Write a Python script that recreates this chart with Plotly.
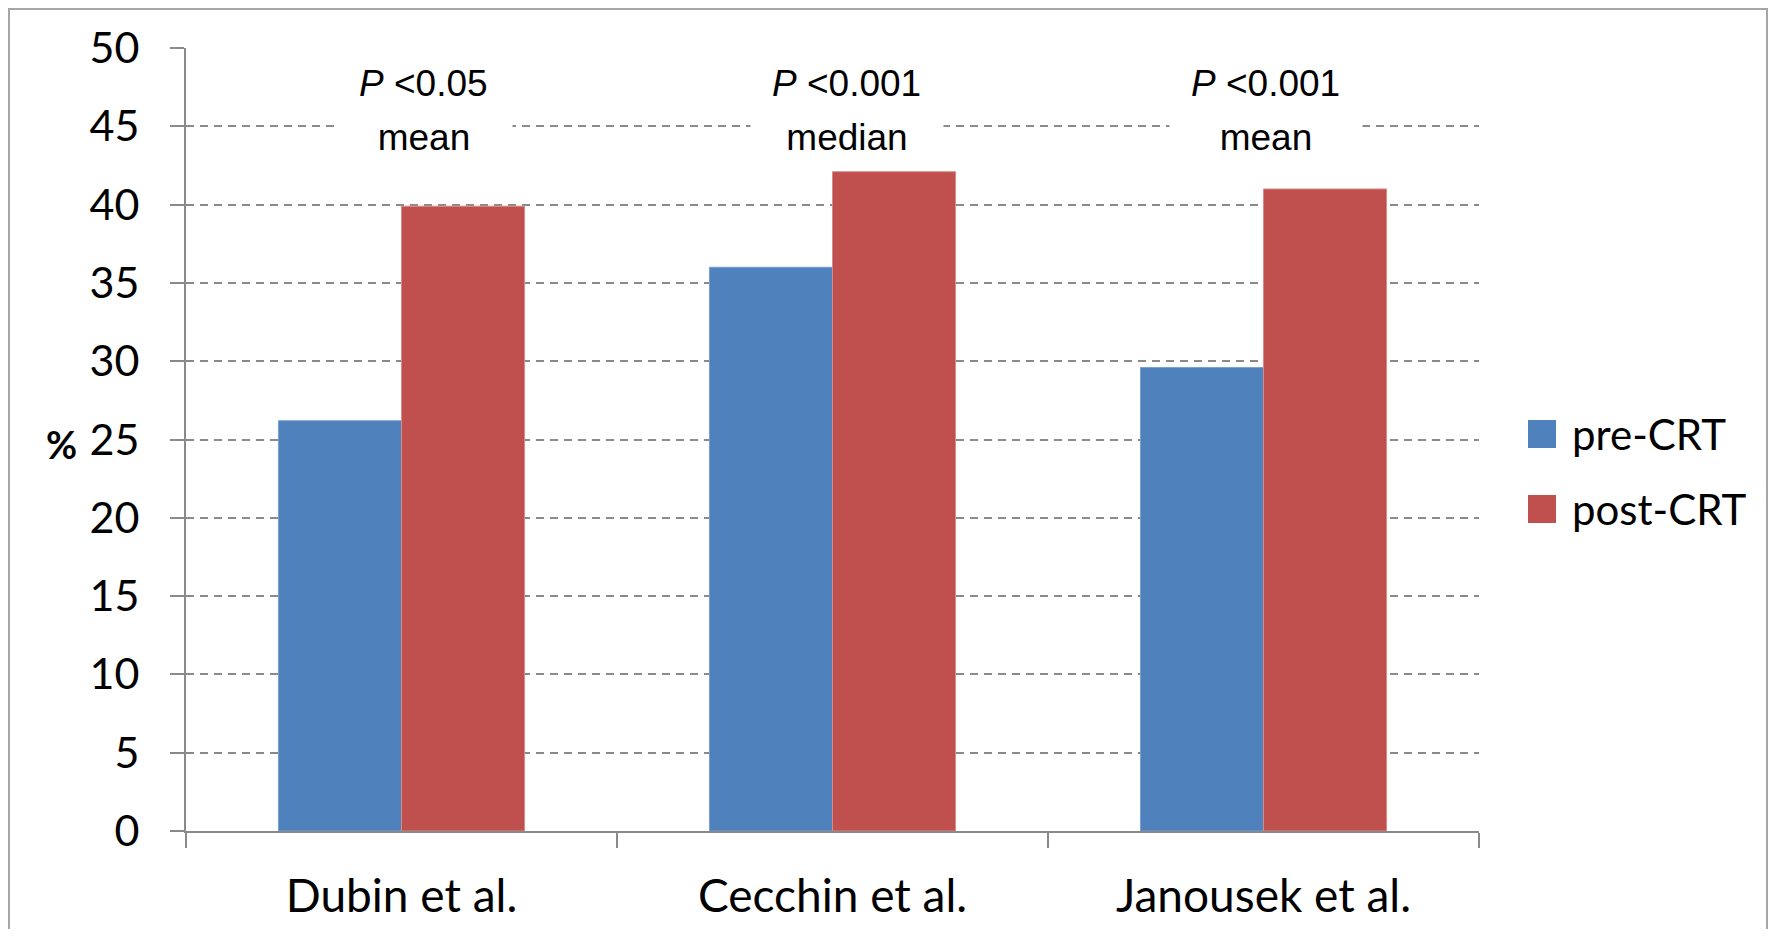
import plotly.graph_objects as go

# data
studies = ["Dubin et al.", "Cecchin et al.", "Janousek et al."]
pre_crt = [26.2, 36.0, 29.6]
post_crt = [39.9, 42.1, 41.0]
p_values = ["<0.05", "<0.001", "<0.001"]
stat_kind = ["mean", "median", "mean"]

# page is 1777x937, the html body adds an 8px margin around the figure
OFF = 8
W, H = 1777 - 2 * OFF, 937 - 2 * OFF
L, T = 178, 40
PW, PH = 1293, 783
R, B = W - L - PW, H - T - PH


# page pixel -> paper helpers for the frame / legend decorations
def px(x):
    return (x - OFF - L) / PW


def py(y):
    return (OFF + T + PH - y) / PH


BLUE = "#4F81BD"
RED = "#C0504D"
GREY = "#8a8a8a"

fig = go.Figure()
fig.add_trace(go.Bar(x=studies, y=pre_crt, name="pre-CRT", marker_color=BLUE,
                     marker_line=dict(color="#7d9fcc", width=1), showlegend=False))
fig.add_trace(go.Bar(x=studies, y=post_crt, name="post-CRT", marker_color=RED,
                     marker_line=dict(color="#d98b89", width=1), showlegend=False))

# p-value labels above each group
shifts = [22, 14, 2]
for s, p, k, dx in zip(studies, p_values, stat_kind, shifts):
    box_w = 176 if p == "<0.05" else 192
    fig.add_annotation(x=s, y=47.76, xref="x", yref="y", xshift=dx,
                       text="<i>P</i> " + p.replace("<", "&lt;"), showarrow=False,
                       font=dict(family="Liberation Sans", size=37, color="black"))
    fig.add_annotation(x=s, y=44.3, xref="x", yref="y", xshift=dx,
                       text=k, showarrow=False, bgcolor="white", width=box_w,
                       borderpad=0,
                       font=dict(family="Liberation Sans", size=37, color="black"))

# y title "%"
fig.add_annotation(x=px(61), y=py(444), xref="paper", yref="paper", text="<b>%</b>",
                   xanchor="center", yanchor="middle", showarrow=False,
                   font=dict(family="Lato", size=38, color="black"))

# legend drawn by hand (big square swatches)
for name, col, yc in [("pre-CRT", BLUE, 434), ("post-CRT", RED, 509)]:
    fig.add_shape(type="rect", xref="paper", yref="paper",
                  x0=px(1528), x1=px(1556), y0=py(yc - 14), y1=py(yc + 14),
                  fillcolor=col, line=dict(width=0))
    fig.add_annotation(x=px(1570), y=py(yc), xref="paper", yref="paper", text=name,
                       xanchor="left", yanchor="middle", showarrow=False,
                       font=dict(family="Lato", size=42, color="black"))

# outer chart frame
fig.add_shape(type="rect", xref="paper", yref="paper",
              x0=px(9), x1=px(1767), y0=py(990), y1=py(9),
              line=dict(color="#a6a6a6", width=2), layer="below")

fig.update_layout(
    width=W, height=H,
    margin=dict(l=L, r=R, t=T, b=B, autoexpand=False),
    paper_bgcolor="white", plot_bgcolor="white",
    barmode="group", bargap=0.429, bargroupgap=0,
    showlegend=False,
)
fig.update_xaxes(
    showline=True, linecolor=GREY, linewidth=2,
    ticks="outside", tickson="boundaries", ticklen=15, tickwidth=2, tickcolor=GREY,
    tickfont=dict(family="Lato", size=46, color="black"), ticklabelstandoff=24,
    showgrid=False, automargin=False,
)
fig.update_yaxes(
    range=[0, 50], dtick=5, showline=True, linecolor=GREY, linewidth=2,
    ticks="outside", ticklen=14, tickwidth=2, tickcolor=GREY,
    tickfont=dict(family="Lato", size=43, color="black"), ticklabelstandoff=22,
    showgrid=True, gridcolor=GREY, gridwidth=1.5, griddash="8px,6px",
    zeroline=False, automargin=False,
)

fig.write_html("out.html")
